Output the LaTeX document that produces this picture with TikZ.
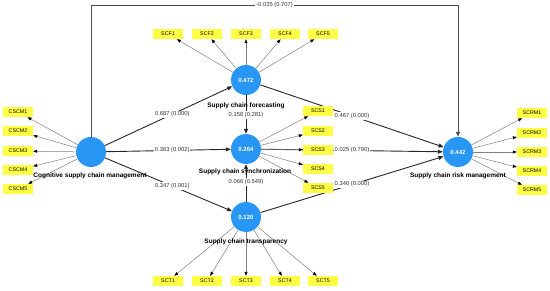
\documentclass[tikz,border=0pt]{standalone}
\usepackage{fontspec}
\setmainfont{Liberation Sans}
\usetikzlibrary{arrows.meta}

\definecolor{lvblue}{RGB}{40,150,245}
\definecolor{mvyellow}{RGB}{255,255,70}

\begin{document}
\begin{tikzpicture}[x=1pt, y=-1pt,
  latent/.style={circle, fill=lvblue, minimum size=30pt, inner sep=0pt, text=white, font=\fontsize{6}{7}\selectfont\bfseries},
  indic/.style={fill=mvyellow, minimum width=30pt, minimum height=10pt, inner sep=0pt, font=\fontsize{5.3}{6}\selectfont},
  lvname/.style={font=\fontsize{6.5}{7}\selectfont\bfseries},
  coef/.style={fill=white, inner sep=1pt, font=\fontsize{5.8}{6}\selectfont, text=black!80},
  struct/.style={black!85, line width=0.9pt, -{Triangle[length=5pt,width=4pt]}},
  load/.style={gray, line width=0.5pt, -{Triangle[length=4pt,width=3pt,black]}}]
  \useasboundingbox (0,0) rectangle (550,291);
  % latent variables
  \node[latent] (cscm) at (91,152) {};
  \node[latent] (scf) at (246,80) {0.472};
  \node[latent] (scs) at (246,149) {0.264};
  \node[latent] (sct) at (246,217) {0.120};
  \node[latent] (scrm) at (458,152) {0.442};
  % structural paths
  \coordinate (topl) at (91,5);
  \coordinate (topr) at (458,5);
  \draw[struct, black!70] (cscm) -- (topl) -- node[coef]{-0.035 (0.707)} (topr) -- (scrm);
  \draw[struct] (cscm) -- node[coef, pos=0.53]{0.687 (0.000)} (scf);
  \draw[struct] (cscm) -- node[coef, pos=0.53]{0.363 (0.002)} (scs);
  \draw[struct] (cscm) -- node[coef, pos=0.53]{0.347 (0.001)} (sct);
  \draw[struct] (scf) -- node[coef, pos=0.51]{0.158 (0.281)} (scs);
  \draw[struct] (sct) -- node[coef, pos=0.53]{0.066 (0.549)} (scs);
  \draw[struct] (scf) -- node[coef, pos=0.5]{0.467 (0.000)} (scrm);
  \draw[struct] (scs) -- node[coef, pos=0.5]{0.025 (0.790)} (scrm);
  \draw[struct] (sct) -- node[coef, pos=0.5]{0.346 (0.000)} (scrm);
  % indicators and loadings
  \foreach \i/\y in {1/112, 2/131, 3/151, 4/170, 5/189} {
    \node[indic] (cscm\i) at (18,\y) {CSCM\i};
    \draw[load] (cscm) -- (cscm\i);
  }
  \foreach \i/\x in {1/168, 2/207, 3/246, 4/285, 5/323} {
    \node[indic] (scf\i) at (\x,34) {SCF\i};
    \draw[load] (scf) -- (scf\i);
  }
  \foreach \i/\y in {1/111, 2/131, 3/150, 4/169, 5/188} {
    \node[indic] (scs\i) at (318,\y) {SCS\i};
    \draw[load] (scs) -- (scs\i);
  }
  \foreach \i/\x in {1/168, 2/207, 3/246, 4/285, 5/323} {
    \node[indic] (sct\i) at (\x,281) {SCT\i};
    \draw[load] (sct) -- (sct\i);
  }
  \foreach \i/\y in {1/113, 2/133, 3/152, 4/171, 5/190} {
    \node[indic] (scrm\i) at (532,\y) {SCRM\i};
    \draw[load] (scrm) -- (scrm\i);
  }
  % construct names
  \node[lvname] (cscmname) at (90,176) {Cognitive supply chain management};
  \node[lvname] (scfname) at (246,106) {Supply chain forecasting};
  \node[lvname] (scsname) at (245,172) {Supply chain synchronization};
  \node[lvname] (sctname) at (246,242) {Supply chain transparency};
  \node[lvname] (scrmname) at (458,176) {Supply chain risk management};
\end{tikzpicture}
\end{document}
